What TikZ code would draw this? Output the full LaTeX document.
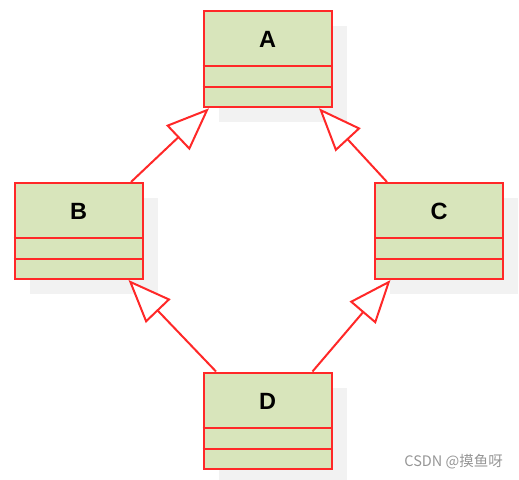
\documentclass[tikz,border=0pt]{standalone}
\usepackage{fontspec}
\setmainfont{Liberation Sans}
\newfontfamily\cjkfont{Noto Sans CJK SC}
\usetikzlibrary{arrows.meta,shadows}
\definecolor{umlred}{RGB}{255,40,40}
\definecolor{umlfill}{RGB}{216,229,187}
\definecolor{umlshadow}{RGB}{242,242,242}
\definecolor{wmgray}{RGB}{150,150,150}
\tikzset{
  classbox/.style={rectangle, draw=umlred, fill=umlfill, line width=2pt,
    minimum width=128pt, inner sep=0pt, text height=36.6pt, text depth=59.4pt,
    font=\fontsize{23.5}{23.5}\selectfont\bfseries,
    general shadow={shadow xshift=15pt, shadow yshift=-15pt, fill=umlshadow, draw=none}},
  sepline/.style={draw=umlred, line width=2pt},
  inherit/.style={draw=umlred, line width=2pt,
    -{Triangle[open, length=43pt, width=34pt, fill=white]}},
}
\newcommand{\compartments}[1]{%
  \draw[sepline] ([yshift=-56pt]#1.north west) -- ([yshift=-56pt]#1.north east);
  \draw[sepline] ([yshift=-77pt]#1.north west) -- ([yshift=-77pt]#1.north east);
}
\begin{document}
\begin{tikzpicture}[x=1pt, y=-1pt]
\useasboundingbox (0,0) rectangle (519,479);
\node[classbox] (A) at (267.5,59.25) {A};
\node[classbox] (B) at (78.5,231) {B};
\node[classbox] (C) at (439,231) {C};
\node[classbox] (D) at (267.5,420.5) {D};
\compartments{A}
\compartments{B}
\compartments{C}
\compartments{D}
\draw[inherit] ([xshift=117.5pt]B.north west) -- ([xshift=6.5pt]A.south west);
\draw[inherit] ([xshift=13pt]C.north west) -- ([xshift=-13.5pt]A.south east);
\draw[inherit] ([xshift=13.5pt]D.north west) -- ([xshift=-15pt]B.south east);
\draw[inherit] ([xshift=-20pt]D.north east) -- ([xshift=16.5pt]C.south west);
\node[anchor=east, text=wmgray, font=\cjkfont\fontsize{14.5}{14.5}\selectfont, inner sep=0pt] (wm) at (503,462) {CSDN @摸鱼呀};
\end{tikzpicture}
\end{document}
